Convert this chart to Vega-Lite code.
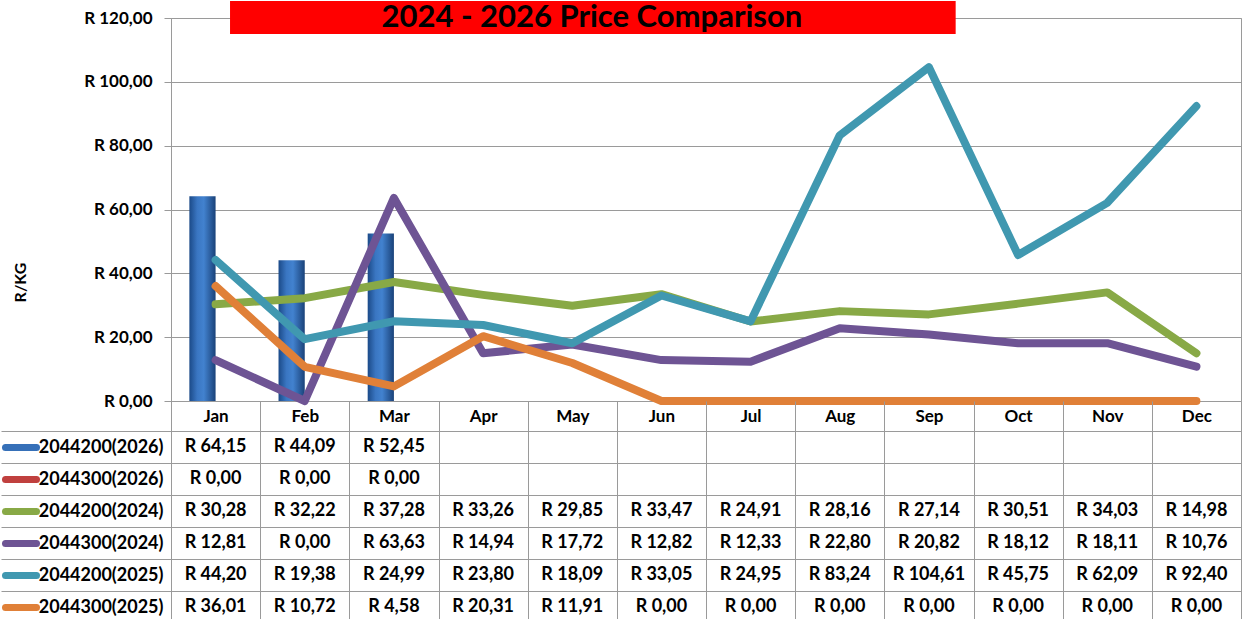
{
  "$schema": "https://vega.github.io/schema/vega-lite/v6.json",
  "padding": {"top": 0, "left": 0, "right": 0, "bottom": 0},
  "background": "white",
  "config": {
    "locale": {"number": {"decimal": ",", "thousands": " ", "grouping": [3], "currency": ["R ", ""]}},
    "font": "Lato",
    "view": {"stroke": null}
  },
  "datasets": {
    "prices": [
      {"s": "2044200(2024)", "m": "Jan", "v": 30.28}, {"s": "2044200(2024)", "m": "Feb", "v": 32.22}, {"s": "2044200(2024)", "m": "Mar", "v": 37.28},
      {"s": "2044200(2024)", "m": "Apr", "v": 33.26}, {"s": "2044200(2024)", "m": "May", "v": 29.85}, {"s": "2044200(2024)", "m": "Jun", "v": 33.47},
      {"s": "2044200(2024)", "m": "Jul", "v": 24.91}, {"s": "2044200(2024)", "m": "Aug", "v": 28.16}, {"s": "2044200(2024)", "m": "Sep", "v": 27.14},
      {"s": "2044200(2024)", "m": "Oct", "v": 30.51}, {"s": "2044200(2024)", "m": "Nov", "v": 34.03}, {"s": "2044200(2024)", "m": "Dec", "v": 14.98},
      {"s": "2044300(2024)", "m": "Jan", "v": 12.81}, {"s": "2044300(2024)", "m": "Feb", "v": 0.0}, {"s": "2044300(2024)", "m": "Mar", "v": 63.63},
      {"s": "2044300(2024)", "m": "Apr", "v": 14.94}, {"s": "2044300(2024)", "m": "May", "v": 17.72}, {"s": "2044300(2024)", "m": "Jun", "v": 12.82},
      {"s": "2044300(2024)", "m": "Jul", "v": 12.33}, {"s": "2044300(2024)", "m": "Aug", "v": 22.8}, {"s": "2044300(2024)", "m": "Sep", "v": 20.82},
      {"s": "2044300(2024)", "m": "Oct", "v": 18.12}, {"s": "2044300(2024)", "m": "Nov", "v": 18.11}, {"s": "2044300(2024)", "m": "Dec", "v": 10.76},
      {"s": "2044200(2025)", "m": "Jan", "v": 44.2}, {"s": "2044200(2025)", "m": "Feb", "v": 19.38}, {"s": "2044200(2025)", "m": "Mar", "v": 24.99},
      {"s": "2044200(2025)", "m": "Apr", "v": 23.8}, {"s": "2044200(2025)", "m": "May", "v": 18.09}, {"s": "2044200(2025)", "m": "Jun", "v": 33.05},
      {"s": "2044200(2025)", "m": "Jul", "v": 24.95}, {"s": "2044200(2025)", "m": "Aug", "v": 83.24}, {"s": "2044200(2025)", "m": "Sep", "v": 104.61},
      {"s": "2044200(2025)", "m": "Oct", "v": 45.75}, {"s": "2044200(2025)", "m": "Nov", "v": 62.09}, {"s": "2044200(2025)", "m": "Dec", "v": 92.4},
      {"s": "2044300(2025)", "m": "Jan", "v": 36.01}, {"s": "2044300(2025)", "m": "Feb", "v": 10.72}, {"s": "2044300(2025)", "m": "Mar", "v": 4.58},
      {"s": "2044300(2025)", "m": "Apr", "v": 20.31}, {"s": "2044300(2025)", "m": "May", "v": 11.91}, {"s": "2044300(2025)", "m": "Jun", "v": 0.0},
      {"s": "2044300(2025)", "m": "Jul", "v": 0.0}, {"s": "2044300(2025)", "m": "Aug", "v": 0.0}, {"s": "2044300(2025)", "m": "Sep", "v": 0.0},
      {"s": "2044300(2025)", "m": "Oct", "v": 0.0}, {"s": "2044300(2025)", "m": "Nov", "v": 0.0}, {"s": "2044300(2025)", "m": "Dec", "v": 0.0},
      {"s": "2044200(2026)", "m": "Jan", "v": 64.15}, {"s": "2044200(2026)", "m": "Feb", "v": 44.09}, {"s": "2044200(2026)", "m": "Mar", "v": 52.45},
      {"s": "2044300(2026)", "m": "Jan", "v": 0.0}, {"s": "2044300(2026)", "m": "Feb", "v": 0.0}, {"s": "2044300(2026)", "m": "Mar", "v": 0.0}
    ]
  },
  "bounds": "flush",
  "spacing": 30,
  "vconcat": [
    {
      "width": 1070,
      "height": 383,
      "view": {"stroke": "#9a9a9a"},
      "layer": [
        {
          "data": {"name": "prices"},
          "layer": [
            {
              "transform": [{"filter": "indexof(datum.s, '(2026)') >= 0"}],
              "mark": {
                "type": "bar",
                "stroke": null,
                "fill": {"x1": 0, "y1": 0, "x2": 1, "y2": 0, "gradient": "linear",
                  "stops": [{"offset": 0, "color": "#1b4a88"}, {"offset": 0.3, "color": "#3a76c2"}, {"offset": 0.55, "color": "#4282cf"}, {"offset": 1, "color": "#1a4279"}]}
              },
              "encoding": {
                "x": {"field": "m", "type": "nominal", "sort": ["Jan","Feb","Mar","Apr","May","Jun","Jul","Aug","Sep","Oct","Nov","Dec"],
                  "scale": {"domain": ["Jan","Feb","Mar","Apr","May","Jun","Jul","Aug","Sep","Oct","Nov","Dec"], "paddingInner": 0, "paddingOuter": 0},
                  "axis": {"title": null, "labels": false, "ticks": false, "grid": false, "domainColor": "#9a9a9a"}},
                "xOffset": {"field": "s", "type": "nominal", "scale": {"domain": ["2044200(2026)", "2044300(2026)"], "paddingInner": 0, "paddingOuter": 0.7}},
                "y": {"field": "v", "type": "quantitative", "scale": {"domain": [0, 120], "nice": false},
                  "axis": {
                    "values": [0, 20, 40, 60, 80, 100, 120],
                    "format": "$.2f",
                    "labelFont": "Lato", "labelFontWeight": "bold", "labelFontSize": 17, "labelColor": "#000",
                    "labelPadding": 12, "tickSize": 7, "tickColor": "#9a9a9a", "domainColor": "#9a9a9a",
                    "grid": true, "gridColor": "#9a9a9a",
                    "title": "R/KG", "titleFont": "Lato", "titleFontSize": 16, "titleFontWeight": "bold", "titleColor": "#000",
                    "titleX": -151, "titleY": 264, "titleAngle": 270, "titleAlign": "center", "titleBaseline": "middle"
                  }}
              }
            },
            {
              "transform": [{"filter": "indexof(datum.s, '(2026)') < 0"}],
              "mark": {"type": "line", "strokeWidth": 8, "strokeCap": "round", "strokeJoin": "round"},
              "encoding": {
                "x": {"field": "m", "type": "nominal", "sort": ["Jan","Feb","Mar","Apr","May","Jun","Jul","Aug","Sep","Oct","Nov","Dec"],
                  "scale": {"domain": ["Jan","Feb","Mar","Apr","May","Jun","Jul","Aug","Sep","Oct","Nov","Dec"], "paddingInner": 0, "paddingOuter": 0},
                  "axis": {"title": null, "labels": false, "ticks": false, "grid": false, "domainColor": "#9a9a9a"}},
                "y": {"field": "v", "type": "quantitative", "scale": {"domain": [0, 120], "nice": false}},
                "color": {"field": "s", "type": "nominal",
                  "scale": {"domain": ["2044200(2024)", "2044300(2024)", "2044200(2025)", "2044300(2025)"],
                            "range": ["#88a946", "#6e5494", "#4098b0", "#e08038"]},
                  "legend": null}
              }
            }
          ]
        },
        {
          "data": {"values": [{"title": "2024 - 2026  Price Comparison"}]},
          "layer": [
            {
              "mark": {"type": "rect", "fill": "#ff0000"},
              "encoding": {
                "x": {"datum": 0.662, "type": "quantitative", "scale": {"domain": [0, 12], "nice": false, "zero": false}, "axis": null},
                "x2": {"datum": 8.8},
                "y": {"datum": 115.0, "type": "quantitative", "scale": {"domain": [0, 120], "nice": false}},
                "y2": {"datum": 125.3}
              }
            },
            {
              "mark": {"type": "text", "fontSize": 31, "fontWeight": "bold", "font": "Lato", "align": "center", "baseline": "alphabetic", "color": "#000"},
              "encoding": {
                "x": {"datum": 4.72, "type": "quantitative", "scale": {"domain": [0, 12], "nice": false, "zero": false}, "axis": null},
                "y": {"datum": 117.3, "type": "quantitative", "scale": {"domain": [0, 120], "nice": false}},
                "text": {"field": "title"}
              }
            }
          ]
        }
      ],
      "resolve": {"scale": {"x": "independent"}}
    },
    {
      "width": 1070,
      "height": 192,
      "view": {"stroke": "#9a9a9a"},
      "data": {"name": "prices"},
      "layer": [
        {
          "transform": [{"filter": "indexof(datum.s, '(2026)') < 0"}],
          "mark": {"type": "text", "fontSize": 18, "fontWeight": "bold", "font": "Lato", "align": "center", "baseline": "middle", "color": "#000"},
          "encoding": {
            "x": {"field": "m", "type": "nominal", "sort": ["Jan","Feb","Mar","Apr","May","Jun","Jul","Aug","Sep","Oct","Nov","Dec"],
              "scale": {"domain": ["Jan","Feb","Mar","Apr","May","Jun","Jul","Aug","Sep","Oct","Nov","Dec"], "paddingInner": 0, "paddingOuter": 0},
              "axis": {"orient": "top", "title": null, "tickBand": "extent", "tickSize": 30, "tickColor": "#9a9a9a",
                "labelPadding": -15, "labelBaseline": "middle", "labelAngle": 0, "labelFont": "Lato", "labelFontSize": 17, "labelFontWeight": "bold", "labelColor": "#000",
                "grid": true, "gridColor": "#9a9a9a", "domainColor": "#9a9a9a"}},
            "y": {"field": "s", "type": "nominal",
              "scale": {"domain": ["2044200(2026)", "2044300(2026)", "2044200(2024)", "2044300(2024)", "2044200(2025)", "2044300(2025)"], "paddingInner": 0, "paddingOuter": 0},
              "axis": {"orient": "left", "title": null, "tickBand": "extent", "tickSize": 170, "tickColor": "#9a9a9a",
                "labelPadding": -162, "labelFont": "Lato", "labelFontSize": 18, "labelFontWeight": "bold", "labelColor": "#000",
                "grid": true, "gridColor": "#9a9a9a", "domainColor": "#9a9a9a"}},
            "text": {"field": "v", "type": "quantitative", "format": "$.2f"}
          }
        },
        {
          "transform": [{"filter": "indexof(datum.s, '(2026)') >= 0"}],
          "mark": {"type": "text", "fontSize": 18, "fontWeight": "bold", "font": "Lato", "align": "center", "baseline": "middle", "color": "#000"},
          "encoding": {
            "x": {"field": "m", "type": "nominal", "sort": ["Jan","Feb","Mar","Apr","May","Jun","Jul","Aug","Sep","Oct","Nov","Dec"],
              "scale": {"domain": ["Jan","Feb","Mar","Apr","May","Jun","Jul","Aug","Sep","Oct","Nov","Dec"], "paddingInner": 0, "paddingOuter": 0},
              "axis": {"orient": "top", "title": null, "tickBand": "extent", "tickSize": 30, "tickColor": "#9a9a9a",
                "labelPadding": -15, "labelBaseline": "middle", "labelAngle": 0, "labelFont": "Lato", "labelFontSize": 17, "labelFontWeight": "bold", "labelColor": "#000",
                "grid": true, "gridColor": "#9a9a9a", "domainColor": "#9a9a9a"}},
            "y": {"field": "s", "type": "nominal",
              "scale": {"domain": ["2044200(2026)", "2044300(2026)", "2044200(2024)", "2044300(2024)", "2044200(2025)", "2044300(2025)"], "paddingInner": 0, "paddingOuter": 0},
              "axis": {"orient": "left", "offset": 135, "title": null, "labels": false, "domain": false, "grid": false,
                "tickSize": 31, "tickWidth": 7, "tickCap": "round",
                "tickColor": {"condition": [
                  {"test": "datum.value === '2044200(2026)'", "value": "#3670b8"},
                  {"test": "datum.value === '2044300(2026)'", "value": "#c0403e"},
                  {"test": "datum.value === '2044200(2024)'", "value": "#88a946"},
                  {"test": "datum.value === '2044300(2024)'", "value": "#6e5494"},
                  {"test": "datum.value === '2044200(2025)'", "value": "#4098b0"}
                ], "value": "#e08038"}}},
            "text": {"field": "v", "type": "quantitative", "format": "$.2f"}
          }
        }
      ],
      "resolve": {"axis": {"y": "independent"}}
    }
  ]
}
